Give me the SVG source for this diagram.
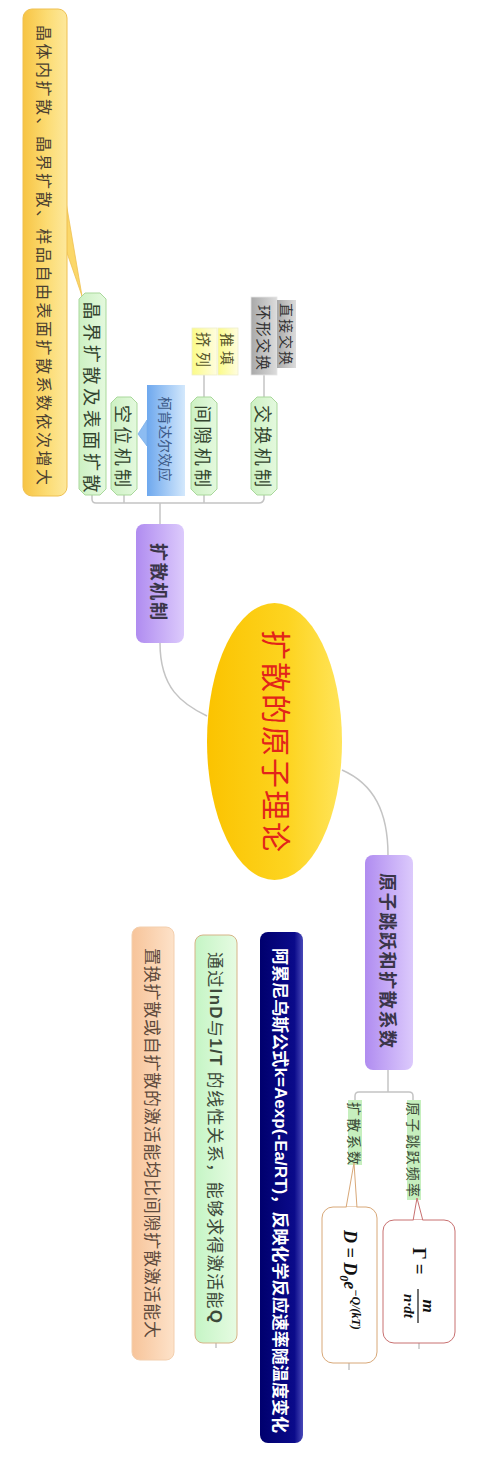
<svg xmlns="http://www.w3.org/2000/svg" width="492" height="1466" viewBox="0 0 492 1466">
<style>
.cjk{font-family:'Noto Sans CJK SC','Noto Sans',sans-serif;}
.vt{text-anchor:middle;dominant-baseline:central;}
.conn{fill:none;stroke:#c4c4c4;stroke-width:1.5;}
.gnode{fill:url(#gGreen);stroke:#a9d89b;stroke-width:1;}
.gtxt{font-size:18px;fill:#34452f;}
.math{font-family:'Liberation Serif',serif;font-weight:bold;font-style:italic;fill:#111;}
</style>
<defs>
<linearGradient id="gYellow" x1="0" y1="0" x2="1" y2="0"><stop offset="0" stop-color="#f7c444"/><stop offset="0.55" stop-color="#fcdc74"/><stop offset="1" stop-color="#fde89c"/></linearGradient>
<linearGradient id="gGreen" x1="0" y1="0" x2="1" y2="0"><stop offset="0" stop-color="#cdf1c3"/><stop offset="1" stop-color="#e4f9de"/></linearGradient>
<linearGradient id="gBlue" x1="0" y1="0" x2="1" y2="0"><stop offset="0" stop-color="#6ea8ee"/><stop offset="1" stop-color="#d3e8fc"/></linearGradient>
<linearGradient id="gLY" x1="0" y1="0" x2="1" y2="0"><stop offset="0" stop-color="#fbfb88"/><stop offset="1" stop-color="#fffde0"/></linearGradient>
<linearGradient id="gGray" x1="0" y1="0" x2="1" y2="0"><stop offset="0" stop-color="#a9a9a9"/><stop offset="1" stop-color="#dcdcdc"/></linearGradient>
<linearGradient id="gPurple" x1="0" y1="0" x2="1" y2="0"><stop offset="0" stop-color="#b08cf0"/><stop offset="1" stop-color="#dccafc"/></linearGradient>
<linearGradient id="gGold" x1="0" y1="0" x2="1" y2="0"><stop offset="0" stop-color="#fbc300"/><stop offset="0.6" stop-color="#fdd420"/><stop offset="1" stop-color="#ffe45a"/></linearGradient>
<linearGradient id="gNavy" x1="0" y1="0" x2="1" y2="0"><stop offset="0" stop-color="#00006e"/><stop offset="0.8" stop-color="#0a0a8a"/><stop offset="1" stop-color="#4848b8"/></linearGradient>
<linearGradient id="gLG" x1="0" y1="0" x2="1" y2="0"><stop offset="0" stop-color="#c5f5c5"/><stop offset="1" stop-color="#e6fbe2"/></linearGradient>
<linearGradient id="gOrange" x1="0" y1="0" x2="1" y2="0"><stop offset="0" stop-color="#f7c49a"/><stop offset="1" stop-color="#fde2c9"/></linearGradient>
</defs>
<rect width="492" height="1466" fill="#ffffff"/>

<g id="connectors">
  <path class="conn" d="M92,495 V499 Q92,503 96,503 H259 Q263,503 264,499 V495"/>
  <path class="conn" d="M124,495 V503"/>
  <path class="conn" d="M204,495 V503"/>
  <path class="conn" d="M160,503 V524"/>
  <path class="conn" d="M204,397 V375"/>
  <path class="conn" d="M264,397 V375"/>
  <path class="conn" d="M160,643 C160,688 182,704 207,716"/>
  <path class="conn" d="M342,770 C374,784 388,812 388,855"/>
  <path class="conn" d="M388,1070 V1092"/>
  <path class="conn" d="M355,1100 V1096 Q355,1092 359,1092 H409 Q413,1092 413,1096 V1100"/>
  <path class="conn" d="M349,1363 V1370"/>
  <path class="conn" d="M419,1343 V1349"/>
  <path class="conn" d="M216,1343 V1348"/>
</g>

<g id="node-callout-yellow">
  <polygon points="66,202 66,250 82,296" fill="#fbd768" stroke="#efc050" stroke-width="0.8"/>
  <rect x="23" y="9" width="44" height="487" rx="9" fill="url(#gYellow)" stroke="#efc050" stroke-width="1"/>
  <text class="cjk vt" transform="translate(45,255) rotate(90)" font-size="16" fill="#4a4030" textLength="460" lengthAdjust="spacing">晶体内扩散、晶界扩散、样品自由表面扩散系数依次增大</text>
</g>

<g id="node-grain">
  <polygon class="gnode" points="79,299 85,293 100,293 106,299 106,489 100,495 85,495 79,489"/>
  <text class="cjk vt gtxt" transform="translate(92.5,397) rotate(90)" textLength="191" lengthAdjust="spacing">晶界扩散及表面扩散</text>
</g>

<g id="node-vacancy">
  <polygon class="gnode" points="111,403 117,397 131,397 137,403 137,489 131,495 117,495 111,489"/>
  <text class="cjk vt gtxt" transform="translate(124,446) rotate(90)" textLength="82" lengthAdjust="spacing">空位机制</text>
</g>

<g id="node-kirkendall">
  <polygon points="147,420 138,434 147,446" fill="#8cbcf2" stroke="#7aaee8" stroke-width="0.8"/>
  <rect x="147" y="385" width="38" height="111" fill="url(#gBlue)"/>
  <text class="cjk vt" transform="translate(166,439) rotate(90)" font-size="14" fill="#3c5a88" textLength="85" lengthAdjust="spacing">柯肯达尔效应</text>
</g>

<g id="node-interstitial">
  <polygon class="gnode" points="191,403 197,397 211,397 217,403 217,489 211,495 197,495 191,489"/>
  <text class="cjk vt gtxt" transform="translate(204,446) rotate(90)" textLength="82" lengthAdjust="spacing">间隙机制</text>
</g>

<g id="node-jilie">
  <rect x="192" y="328" width="25" height="47" fill="url(#gLY)" stroke="#eeeecc" stroke-width="0.8"/>
  <text class="cjk vt" transform="translate(204.5,349.5) rotate(90)" font-size="15" fill="#55552a" textLength="35" lengthAdjust="spacing">挤列</text>
</g>

<g id="node-tuitian">
  <rect x="218" y="328" width="20" height="47" fill="url(#gLY)" stroke="#eeeecc" stroke-width="0.8"/>
  <text class="cjk vt" transform="translate(228,349) rotate(90)" font-size="14" fill="#55552a" textLength="32" lengthAdjust="spacing">推填</text>
</g>

<g id="node-exchange">
  <polygon class="gnode" points="251,403 257,397 271,397 277,403 277,489 271,495 257,495 251,489"/>
  <text class="cjk vt gtxt" transform="translate(264,446) rotate(90)" textLength="82" lengthAdjust="spacing">交换机制</text>
</g>

<g id="node-ring">
  <rect x="251" y="297" width="26" height="78" fill="url(#gGray)" stroke="#e6e6e6" stroke-width="0.8"/>
  <text class="cjk vt" transform="translate(264,337.5) rotate(90)" font-size="15" fill="#333" textLength="65" lengthAdjust="spacing">环形交换</text>
</g>

<g id="node-direct">
  <rect x="277" y="300" width="19" height="68" fill="url(#gGray)"/>
  <text class="cjk vt" transform="translate(286.5,334) rotate(90)" font-size="14" fill="#333" textLength="62" lengthAdjust="spacing">直接交换</text>
</g>

<g id="node-mechanism">
  <rect x="136" y="524" width="48" height="119" rx="8" fill="url(#gPurple)"/>
  <text class="cjk vt" transform="translate(160,581.5) rotate(90)" font-size="18" font-weight="bold" fill="#3a3548" textLength="77" lengthAdjust="spacing">扩散机制</text>
</g>

<g id="node-root">
  <ellipse cx="274.5" cy="741.5" rx="67.5" ry="138.5" fill="url(#gGold)"/>
  <text class="cjk vt" transform="translate(278,741) rotate(90)" font-size="30" fill="#e2241a" textLength="222" lengthAdjust="spacing">扩散的原子理论</text>
</g>

<g id="node-jump">
  <rect x="365" y="855" width="48" height="215" rx="8" fill="url(#gPurple)"/>
  <text class="cjk vt" transform="translate(389,960.5) rotate(90)" font-size="18" font-weight="bold" fill="#3a3548" textLength="175" lengthAdjust="spacing">原子跳跃和扩散系数</text>
</g>

<g id="node-orange">
  <rect x="132" y="927" width="42" height="433" rx="8" fill="url(#gOrange)" stroke="#f3cfae" stroke-width="1"/>
  <text class="cjk vt" transform="translate(153,1143) rotate(90)" font-size="17" fill="#5e4a3c" textLength="390" lengthAdjust="spacing">置换扩散或自扩散的激活能均比间隙扩散激活能大</text>
</g>

<g id="node-lnD">
  <rect x="195" y="935" width="42" height="408" rx="8" fill="url(#gLG)" stroke="#d6b487" stroke-width="1"/>
  <text class="cjk vt" transform="translate(216,1137.5) rotate(90)" font-size="17" fill="#3d4a3a" textLength="371" lengthAdjust="spacing">通过<tspan font-weight="bold" font-family="'Liberation Sans',sans-serif">lnD</tspan>与<tspan font-weight="bold" font-family="'Liberation Sans',sans-serif">1/T</tspan> 的线性关系，能够求得激活能<tspan font-weight="bold" font-family="'Liberation Sans',sans-serif">Q</tspan></text>
</g>

<g id="node-arrhenius">
  <rect x="260" y="932" width="43" height="511" rx="8" fill="url(#gNavy)"/>
  <text class="cjk vt" transform="translate(281,1190.5) rotate(90)" font-size="17" font-weight="bold" fill="#ffffff" textLength="485" lengthAdjust="spacing">阿累尼乌斯公式<tspan font-family="'Liberation Sans',sans-serif">k=Aexp(-Ea/RT)</tspan>，反映化学反应速率随温度变化</text>
</g>

<g id="node-freq-label">
  <rect x="407" y="1100" width="14" height="100" fill="#c6efbe"/>
  <text class="cjk vt" transform="translate(414,1149.5) rotate(90)" font-size="14" fill="#3a4a36" textLength="95" lengthAdjust="spacing">原子跳跃频率</text>
</g>

<g id="node-coef-label">
  <rect x="348" y="1100" width="14" height="65" fill="#c6efbe"/>
  <text class="cjk vt" transform="translate(355,1133.5) rotate(90)" font-size="14" fill="#3a4a36" textLength="63" lengthAdjust="spacing">扩散系数</text>
</g>

<g id="node-gamma">
  <polygon points="413,1221 417,1198 423,1221" fill="#fff" stroke="#c87070" stroke-width="1"/>
  <rect x="383" y="1220" width="72" height="123" rx="11" fill="#ffffff" stroke="#c87070" stroke-width="1"/>
  <line x1="413.5" y1="1221" x2="422.5" y2="1221" stroke="#fff" stroke-width="2"/>
  <g transform="translate(419,1281) rotate(90)">
    <text class="math" x="-20" y="6" font-size="19" text-anchor="middle" style="font-style:normal">Γ =</text>
    <line x1="8" y1="1" x2="42" y2="1" stroke="#111" stroke-width="1.2"/>
    <text class="math" x="25" y="-4" font-size="17" text-anchor="middle">m</text>
    <text class="math" x="25" y="15" font-size="15" text-anchor="middle">n·dt</text>
  </g>
</g>

<g id="node-D">
  <polygon points="346,1208 354,1163 357,1208" fill="#fff" stroke="#d8a878" stroke-width="1"/>
  <rect x="322" y="1207" width="55" height="156" rx="11" fill="#ffffff" stroke="#d8a878" stroke-width="1"/>
  <line x1="346.5" y1="1208" x2="356.5" y2="1208" stroke="#fff" stroke-width="2"/>
  <g transform="translate(349.5,1285) rotate(90)">
    <text class="math" x="-55" y="6" font-size="18">D = D<tspan font-size="12" dy="4">0</tspan><tspan dy="-4">e</tspan><tspan font-size="12" dy="-8">−Q/(kT)</tspan></text>
  </g>
</g>
</svg>
